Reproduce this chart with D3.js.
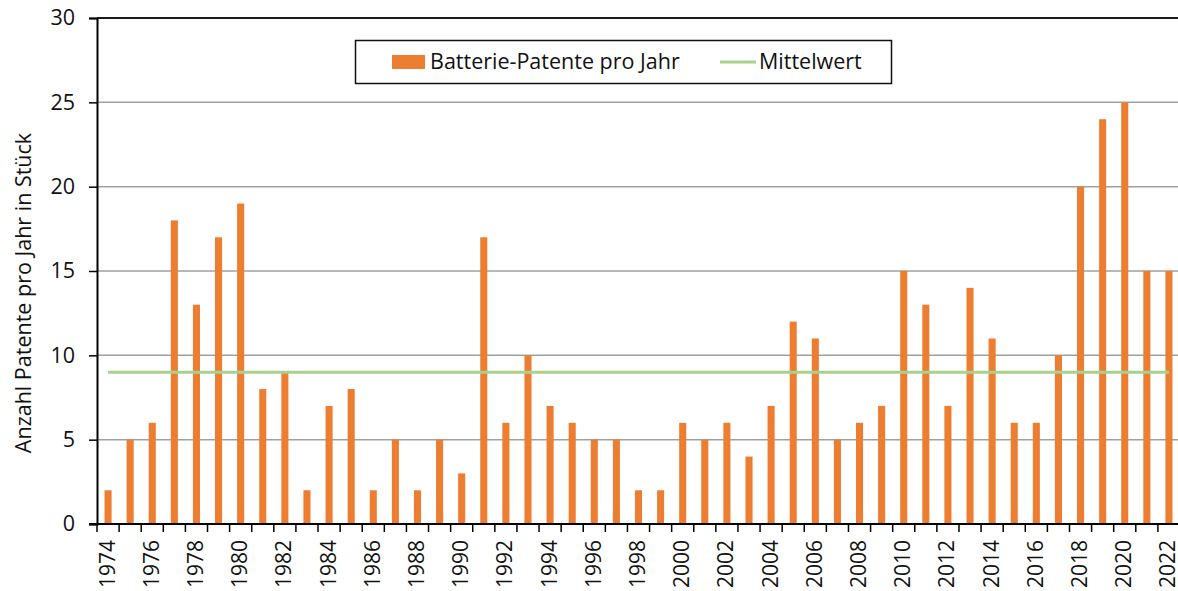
<!DOCTYPE html>
<html>
<head>
<meta charset="utf-8">
<script src="https://cdn.jsdelivr.net/npm/d3@7"></script>
<style>
  html, body { margin: 0; padding: 0; background: #fff; }
  svg { display: block; }
</style>
</head>
<body>
<svg id="chart" width="1178" height="591"></svg>
<script>
const years = ["1974","1975","1976","1977","1978","1979","1980","1981","1982","1983","1984","1985","1986","1987","1988","1989","1990","1991","1992","1993","1994","1995","1996","1997","1998","1999","2000","2001","2002","2003","2004","2005","2006","2007","2008","2009","2010","2011","2012","2013","2014","2015","2016","2017","2018","2019","2020","2021","2022"];
const patents = [2,5,6,18,13,17,19,8,9,2,7,8,2,5,2,5,3,17,6,10,7,6,5,5,2,2,6,5,6,4,7,12,11,5,6,7,15,13,7,14,11,6,6,10,20,24,25,15,15];
const meanValue = [9];
const yTicks = [0,5,10,15,20,25,30];
const seriesNames = ["Batterie-Patente pro Jahr", "Mittelwert"];

const svg = d3.select("#chart");
const mLeft = 97, mRight = 1180, mTop = 18, mBottom = 524;

const x = d3.scaleBand().domain(years).range([mLeft, mRight]).paddingInner(0.68).paddingOuter(0.34);
const xb = d3.scaleBand().domain(years).range([mLeft, mRight]);
const y = d3.scaleLinear().domain([0, 30]).range([mBottom, mTop]);

const tickFont = "'Open Sans', sans-serif";
const labFont = "'Open Sans', sans-serif";

// gridlines
svg.append("g").selectAll("line").data(yTicks.filter(d => d > 0)).join("line")
  .attr("x1", mLeft).attr("x2", 1178)
  .attr("y1", d => y(d)).attr("y2", d => y(d))
  .attr("stroke", d => d === 30 ? "#1a1a1a" : "#a0a0a0")
  .attr("stroke-width", d => d === 30 ? 2 : 1.5);

// bars
svg.append("g").selectAll("rect").data(patents).join("rect")
  .attr("x", (d, i) => x(years[i]))
  .attr("width", x.bandwidth())
  .attr("y", d => y(d))
  .attr("height", d => y(0) - y(d))
  .attr("fill", "#ed7d31");

// mean line
svg.append("line")
  .attr("x1", xb(years[0]) + xb.bandwidth() / 2)
  .attr("x2", xb(years[years.length - 1]) + xb.bandwidth() / 2)
  .attr("y1", y(meanValue[0])).attr("y2", y(meanValue[0]))
  .attr("stroke", "#a9d18e").attr("stroke-width", 3);

// y axis
const yAxis = svg.append("g").attr("transform", `translate(${mLeft},0)`)
  .call(d3.axisLeft(y).tickValues(yTicks).tickSize(8).tickPadding(14));
yAxis.select(".domain").attr("stroke", "#000").attr("stroke-width", 2);
yAxis.selectAll(".tick line").attr("stroke", "#000").attr("stroke-width", 1.5);
yAxis.selectAll(".tick text").attr("font-family", tickFont).attr("font-size", 21.5).attr("fill", "#111");

// x axis with ticks at band boundaries
const xg = svg.append("g");
xg.append("line").attr("x1", mLeft - 8).attr("x2", 1178).attr("y1", mBottom).attr("y2", mBottom)
  .attr("stroke", "#000").attr("stroke-width", 2);
xg.selectAll("line.tk").data(years).join("line").attr("class", "tk")
  .attr("x1", d => xb(d)).attr("x2", d => xb(d))
  .attr("y1", mBottom).attr("y2", mBottom + 8)
  .attr("stroke", "#000").attr("stroke-width", 1.5);
xg.selectAll("text").data(years.filter((d, i) => i % 2 === 0)).join("text")
  .attr("transform", d => `translate(${xb(d) + xb.bandwidth() / 2 + 6.5},${mBottom + 16}) rotate(-90)`)
  .attr("text-anchor", "end")
  .attr("font-family", tickFont).attr("font-size", 21).attr("fill", "#111")
  .text(d => d);

// y axis title
svg.append("text")
  .attr("transform", `translate(31,293) rotate(-90)`)
  .attr("text-anchor", "middle")
  .attr("font-family", labFont).attr("font-size", 21.5).attr("fill", "#111")
  .text("Anzahl Patente pro Jahr in Stück");

// legend
const lg = svg.append("g");
lg.append("rect").attr("x", 355.5).attr("y", 40.5).attr("width", 536).attr("height", 43)
  .attr("fill", "#fff").attr("stroke", "#111").attr("stroke-width", 1.5);
lg.append("rect").attr("x", 392).attr("y", 55).attr("width", 33).attr("height", 14).attr("fill", "#ed7d31");
lg.append("text").attr("x", 430).attr("y", 69).attr("font-family", labFont).attr("font-size", 21.5).attr("fill", "#111")
  .text(seriesNames[0]);
lg.append("line").attr("x1", 720).attr("x2", 756).attr("y1", 62).attr("y2", 62)
  .attr("stroke", "#a9d18e").attr("stroke-width", 3);
lg.append("text").attr("x", 759).attr("y", 69).attr("font-family", labFont).attr("font-size", 21.5).attr("fill", "#111")
  .text(seriesNames[1]);
</script>
</body>
</html>
